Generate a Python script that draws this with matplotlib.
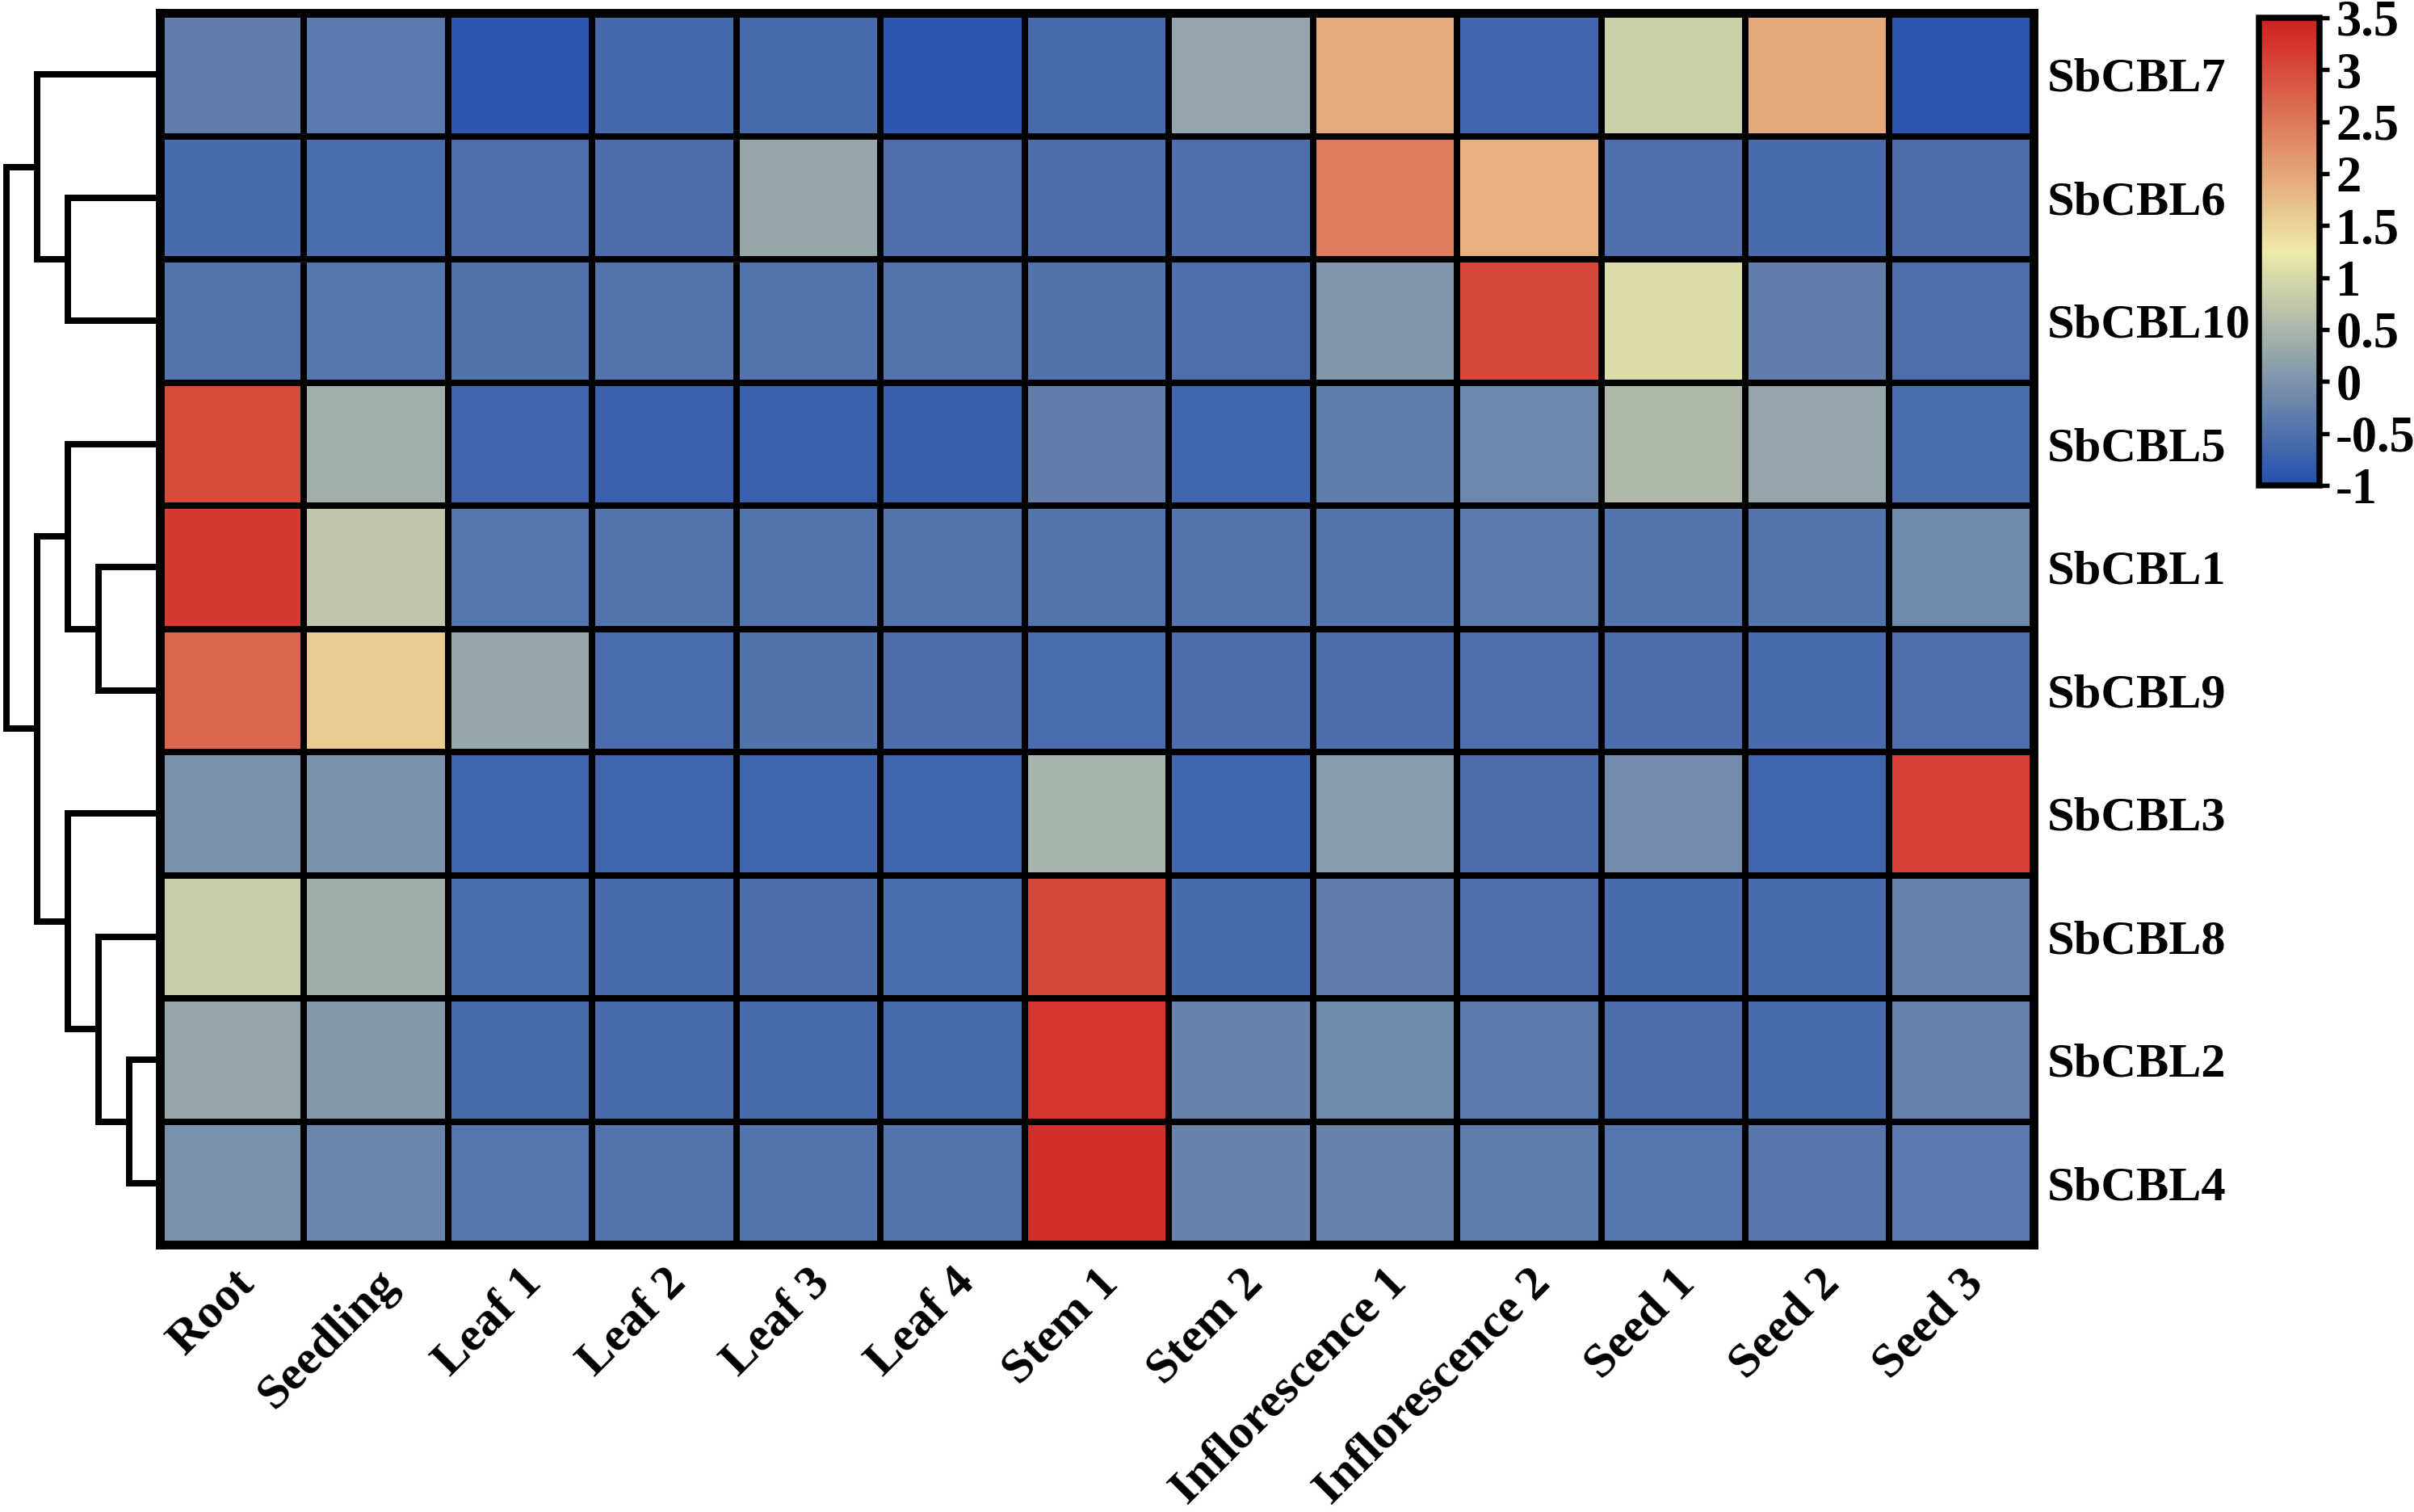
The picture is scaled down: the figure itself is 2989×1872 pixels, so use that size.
import numpy as np
import matplotlib.pyplot as plt
from matplotlib.colors import LinearSegmentedColormap

plt.rcParams['font.family'] = ['Liberation Serif', 'DejaVu Serif']
plt.rcParams['font.weight'] = 'bold'
plt.rcParams['axes.unicode_minus'] = False

# tissues (columns) and genes (rows, in dendrogram order)
tissues = ['Root', 'Seedling', 'Leaf 1', 'Leaf 2', 'Leaf 3', 'Leaf 4', 'Stem 1',
           'Stem 2', 'Inflorescence 1', 'Inflorescence 2', 'Seed 1', 'Seed 2', 'Seed 3']
genes = ['SbCBL7', 'SbCBL6', 'SbCBL10', 'SbCBL5', 'SbCBL1',
         'SbCBL9', 'SbCBL3', 'SbCBL8', 'SbCBL2', 'SbCBL4']

# row-scaled expression values
expr = [
    [-0.30, -0.40, -0.88, -0.62, -0.60, -0.88, -0.60, 0.25, 1.95, -0.67, 0.87, 1.97, -0.90],
    [-0.58, -0.57, -0.53, -0.55, 0.27, -0.53, -0.55, -0.53, 2.45, 1.90, -0.53, -0.58, -0.55],
    [-0.46, -0.45, -0.50, -0.49, -0.49, -0.49, -0.50, -0.53, 0.02, 3.05, 1.04, -0.30, -0.53],
    [3.00, 0.40, -0.68, -0.75, -0.75, -0.76, -0.30, -0.70, -0.33, -0.18, 0.53, 0.25, -0.57],
    [3.20, 0.73, -0.45, -0.46, -0.48, -0.48, -0.48, -0.48, -0.47, -0.37, -0.47, -0.47, -0.17],
    [2.70, 1.60, 0.27, -0.57, -0.50, -0.56, -0.57, -0.56, -0.55, -0.53, -0.55, -0.58, -0.53],
    [-0.03, -0.02, -0.69, -0.69, -0.69, -0.69, 0.46, -0.70, 0.10, -0.55, -0.13, -0.69, 3.12],
    [0.83, 0.37, -0.57, -0.58, -0.55, -0.57, 3.05, -0.58, -0.30, -0.53, -0.58, -0.58, -0.27],
    [0.27, 0.07, -0.58, -0.58, -0.58, -0.58, 3.22, -0.25, -0.17, -0.38, -0.56, -0.58, -0.27],
    [-0.05, -0.20, -0.45, -0.46, -0.46, -0.46, 3.32, -0.26, -0.26, -0.33, -0.44, -0.43, -0.40],
]

# row dendrogram: (left cluster, right cluster, level); new clusters numbered from 10
merges = [(8, 9, 1), (4, 5, 2), (1, 2, 3), (7, 10, 2), (3, 11, 3),
          (6, 13, 3), (0, 12, 4), (14, 15, 4), (16, 17, 5)]

cbar_ticks = [-1, -0.5, 0, 0.5, 1, 1.5, 2, 2.5, 3, 3.5]

data = np.array(expr)
nrow, ncol = data.shape

cmap = LinearSegmentedColormap.from_list('bwr_tb', ['#2450AE', '#EEEAA8', '#D11E1F'])

fig = plt.figure(figsize=(2989 / 300, 1872 / 300), dpi=300)

# heatmap
ax = fig.add_axes([0.0662, 0.1768, 0.7762, 0.8146])
mesh = ax.pcolormesh(data, cmap=cmap, vmin=-1, vmax=3.5,
                     edgecolors='black', linewidth=1.9)
ax.set_xlim(0, ncol)
ax.set_ylim(nrow, 0)
for s in ax.spines.values():
    s.set_linewidth(2.6)
ax.set_xticks(np.arange(ncol) + 0.5)
ax.set_xticklabels(tissues, rotation=45, ha='right', va='top',
                   rotation_mode='anchor', fontsize=14.5, fontweight='bold')
ax.yaxis.tick_right()
ax.set_yticks(np.arange(nrow) + 0.5)
ax.set_yticklabels(genes, fontsize=14.5, fontweight='bold')
ax.tick_params(axis='both', length=0)
ax.tick_params(axis='x', pad=5)
ax.tick_params(axis='y', pad=4)

# dendrogram on the left
dax = fig.add_axes([0.0, 0.1768, 0.0662, 0.8146])
pos = {i: (0.0, i + 0.5) for i in range(nrow)}
for k, (a, b, h) in enumerate(merges):
    ha_, ya = pos[a]
    hb, yb = pos[b]
    dax.plot([ha_, h, h, hb], [ya, ya, yb, yb], color='black', lw=1.9,
             solid_joinstyle='miter', solid_capstyle='butt')
    pos[nrow + k] = (h, (ya + yb) / 2)
dax.set_xlim(5.21, 0)
dax.set_ylim(nrow, 0)
dax.axis('off')

# colorbar
cax = fig.add_axes([0.9358, 0.679, 0.0251, 0.3093])
cb = fig.colorbar(mesh, cax=cax, ticks=cbar_ticks)
cb.ax.set_yticklabels(['%g' % t for t in cbar_ticks], fontsize=15, fontweight='bold')
cb.outline.set_linewidth(1.8)
cb.ax.tick_params(length=2.8, width=1.3, pad=2)

fig.savefig('out.png', dpi=300, facecolor='white')
